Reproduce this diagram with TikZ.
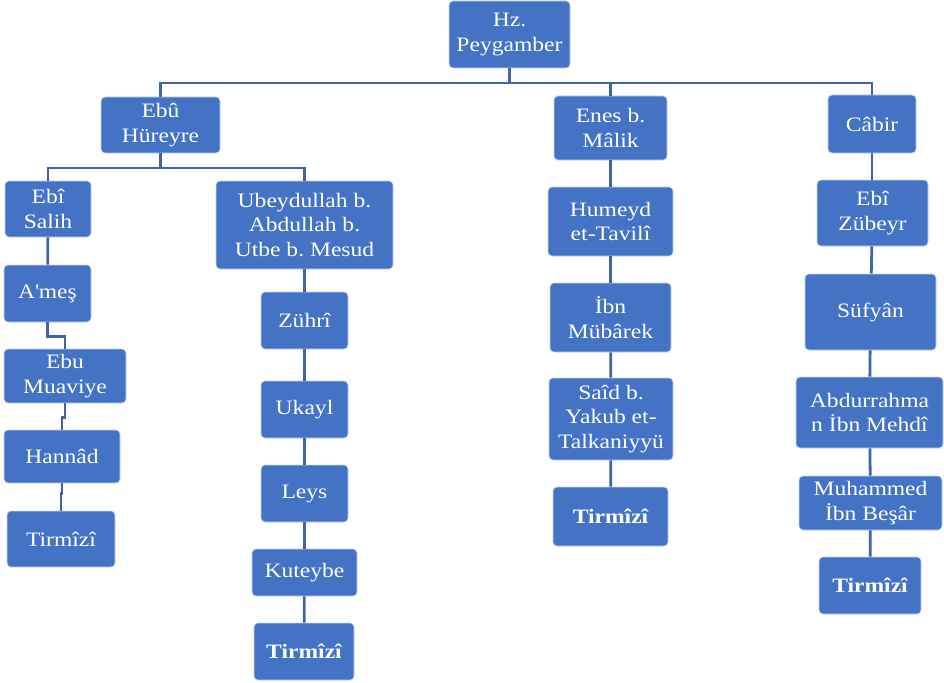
\documentclass[tikz,border=0pt]{standalone}
\usepackage{fontspec}
\setmainfont[FakeStretch=1.15]{Liberation Serif}
\usepackage{tikz}
\usetikzlibrary{positioning}
\frenchspacing
\definecolor{ravimavi}{rgb}{0.267, 0.447, 0.769}
\definecolor{hatmavi}{rgb}{0.247, 0.392, 0.667}
\tikzset{
	ravi/.style={rectangle, rounded corners=4pt, fill=ravimavi, draw=white!70!ravimavi, line width=0.6pt, text=white, align=center, inner sep=2pt, font=\fontsize{20.5}{24.5}\selectfont},
	hat/.style={draw=hatmavi, line width=2.8pt}
}
\begin{document}
\begin{tikzpicture}[line cap=butt,line join=miter, x=1pt,y=-1pt]
					\useasboundingbox (0,0) rectangle (944,682);
					\node[ravi, minimum width=121pt, minimum height=67pt] (peygamber) at (509.5,34.5) {Hz.\\Peygamber};
					\node[ravi, minimum width=119pt, minimum height=56pt] (ebuhureyre) at (160.5,125) {Ebû\\Hüreyre};
					\node[ravi, minimum width=113pt, minimum height=64pt] (enes) at (610.5,128) {Enes b.\\Mâlik};
					\node[ravi, minimum width=88pt, minimum height=58pt] (cabir) at (872,124) {Câbir};
					% Ebû Hüreyre kolu
					\node[ravi, minimum width=86pt, minimum height=56pt] (ebisalih) at (48,209) {Ebî\\Salih};
					\node[ravi, minimum width=87pt, minimum height=57pt] (ames) at (47.5,293.5) {A\textquotesingle meş};
					\node[ravi, minimum width=122pt, minimum height=54pt] (muaviye) at (65,376) {Ebu\\Muaviye};
					\node[ravi, minimum width=116pt, minimum height=53pt] (hannad) at (62,456.5) {Hannâd};
					\node[ravi, minimum width=108pt, minimum height=56pt] (tirmizia) at (61,539) {Tirmîzî};
					\node[ravi, minimum width=177pt, minimum height=88pt] (ubeydullah) at (304.5,225) {Ubeydullah b.\\Abdullah b.\\Utbe b. Mesud};
					\node[ravi, minimum width=87pt, minimum height=57pt] (zuhri) at (304.5,320.5) {Zührî};
					\node[ravi, minimum width=87pt, minimum height=57pt] (ukayl) at (304.5,409.5) {Ukayl};
					\node[ravi, minimum width=87pt, minimum height=57pt] (leys) at (304.5,493.5) {Leys};
					\node[ravi, minimum width=105pt, minimum height=47pt] (kuteybe) at (304.5,572.5) {Kuteybe};
					\node[ravi, minimum width=100pt, minimum height=57pt] (tirmizib) at (304,651.5) {\bfseries Tirmîzî};
					% Enes kolu
					\node[ravi, minimum width=125pt, minimum height=69pt] (humeyd) at (610.5,221.5) {Humeyd\\et-Tavilî};
					\node[ravi, minimum width=121pt, minimum height=69pt] (mubarek) at (610.5,317.5) {İbn\\Mübârek};
					\node[ravi, minimum width=124pt, minimum height=82pt] (said) at (611,419) {Saîd b.\\Yakub et-\\Talkaniyyü};
					\node[ravi, minimum width=115pt, minimum height=59pt] (tirmizic) at (610.5,516.5) {\bfseries Tirmîzî};
					% Câbir kolu
					\node[ravi, minimum width=111pt, minimum height=66pt] (zubeyr) at (872.5,213) {Ebî\\Zübeyr};
					\node[ravi, minimum width=131pt, minimum height=76pt] (sufyan) at (870.5,312) {Süfyân};
					\node[ravi, minimum width=147pt, minimum height=71pt] (mehdi) at (869.5,412.5) {Abdurrahma\\n İbn Mehdî};
					\node[ravi, minimum width=143pt, minimum height=54pt] (besar) at (870.5,503) {Muhammed\\İbn Beşâr};
					\node[ravi, minimum width=102pt, minimum height=57pt] (tirmizid) at (870,585.5) {\bfseries Tirmîzî};
					\coordinate (ust) at (0,83);
					\coordinate (orta) at (0,168);
					\draw[hat] (peygamber.south) -- (peygamber.south |- ust);
					\draw[hat] (ebuhureyre.north) -- (ebuhureyre.north |- ust) -- (cabir.north |- ust) -- (cabir.north);
					\draw[hat] (enes.north) -- (enes.north |- ust);
					\draw[hat] (ebuhureyre.south) -- (ebuhureyre.south |- orta);
					\draw[hat] (ebisalih.north) -- (ebisalih.north |- orta) -- (ubeydullah.north |- orta) -- (ubeydullah.north);
					\draw[hat] (ebisalih) -- (ames);
					\draw[hat] (ames.south) -- ++(0,14) -| (muaviye.north);
					\draw[hat] (muaviye.south) -- ++(0,14) -| (hannad.north);
					\draw[hat] (hannad.south) -- ++(0,10) -| (tirmizia.north);
					\draw[hat] (ubeydullah) -- (zuhri);
					\draw[hat] (zuhri) -- (ukayl);
					\draw[hat] (ukayl) -- (leys);
					\draw[hat] (leys) -- (kuteybe);
					\draw[hat] (kuteybe) -- (tirmizib);
					\draw[hat] (enes) -- (humeyd);
					\draw[hat] (humeyd) -- (mubarek);
					\draw[hat] (mubarek) -- (said);
					\draw[hat] (said) -- (tirmizic);
					\draw[hat] (cabir.south) -- (zubeyr.north -| cabir.south);
					\draw[hat] (zubeyr) -- (sufyan);
					\draw[hat] (sufyan) -- (mehdi);
					\draw[hat] (mehdi) -- (besar);
					\draw[hat] (besar) -- (tirmizid);
				\end{tikzpicture}
\end{document}
